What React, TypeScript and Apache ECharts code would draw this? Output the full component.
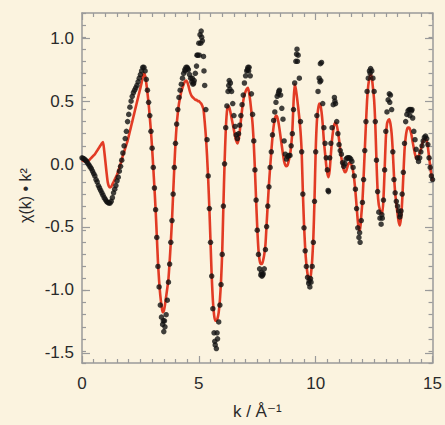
import React, { useEffect, useRef } from "react";
import * as echarts from "echarts";

// k grid step (Å^-1) of the sampled data, from k = 0 to 15
const K_STEP = 0.05;

// experimental chi(k)*k^2 (black dots), one value per K_STEP from k = 0
const chiExp = [
  0.00, -0.005, -0.01, -0.02, -0.03, -0.045, -0.06, -0.075, -0.09, -0.11, -0.13, -0.15, -0.18, -0.20, -0.23, -0.25, -0.27, -0.29, -0.31, -0.33,
  -0.345, -0.36, -0.37, -0.375, -0.375, -0.36, -0.33, -0.29, -0.26, -0.23, -0.19, -0.16, -0.11, -0.07, -0.02, 0.04, 0.10, 0.16, 0.22, 0.30,
  0.36, 0.42, 0.47, 0.51, 0.54, 0.56, 0.58, 0.60, 0.63, 0.66, 0.69, 0.72, 0.75, 0.75, 0.72, 0.65, 0.56, 0.46, 0.35, 0.22,
  0.08, -0.08, -0.25, -0.43, -0.66, -0.90, -1.07, -1.22, -1.32, -1.38, -1.44, -1.40, -1.30, -1.18, -1.03, -0.88, -0.70, -0.52, -0.30, -0.08,
  0.12, 0.28, 0.40, 0.50, 0.56, 0.61, 0.66, 0.70, 0.73, 0.75, 0.75, 0.73, 0.69, 0.66, 0.63, 0.61, 0.64, 0.70, 0.76, 0.85,
  0.95, 1.02, 1.05, 0.97, 0.84, 0.60, 0.40, 0.15, -0.15, -0.42, -0.70, -0.98, -1.25, -1.45, -1.55, -1.58, -1.50, -1.36, -1.22, -1.05,
  -0.80, -0.40, -0.05, 0.25, 0.43, 0.55, 0.64, 0.62, 0.55, 0.45, 0.35, 0.26, 0.19, 0.16, 0.20, 0.27, 0.35, 0.44, 0.52, 0.62,
  0.68, 0.72, 0.75, 0.75, 0.68, 0.53, 0.36, 0.14, -0.10, -0.35, -0.60, -0.80, -0.92, -0.97, -0.98, -0.96, -0.92, -0.76, -0.57, -0.40,
  -0.24, -0.08, 0.05, 0.19, 0.31, 0.38, 0.46, 0.51, 0.53, 0.56, 0.52, 0.41, 0.32, 0.14, 0.03, -0.01, 0.01, 0.02, 0.02, 0.10,
  0.20, 0.40, 0.62, 0.80, 0.90, 0.85, 0.66, 0.30, 0.05, -0.30, -0.58, -0.77, -0.90, -0.99, -1.04, -1.07, -1.03, -0.90, -0.70, -0.36,
  0.05, 0.35, 0.55, 0.66, 0.78, 0.79, 0.45, 0.25, 0.12, 0.00, -0.10, -0.28, 0.00, 0.12, 0.25, 0.44, 0.50, 0.45, 0.30, 0.20,
  0.11, 0.06, 0.03, -0.04, -0.07, -0.05, -0.01, 0.00, 0.00, 0.00, -0.01, -0.03, -0.08, -0.15, -0.26, -0.42, -0.58, -0.66, -0.70, -0.52,
  -0.37, -0.18, 0.06, 0.30, 0.55, 0.66, 0.72, 0.74, 0.72, 0.66, 0.55, 0.30, -0.02, -0.28, -0.45, -0.50, -0.55, -0.50, -0.35, -0.10,
  0.22, 0.38, 0.48, 0.53, 0.52, 0.40, 0.05, -0.18, -0.29, -0.36, -0.40, -0.44, -0.49, -0.44, -0.30, -0.12, 0.12, 0.30, 0.36, 0.39,
  0.40, 0.40, 0.39, 0.33, 0.22, 0.15, 0.07, 0.00, -0.03, 0.00, 0.05, 0.10, 0.14, 0.17, 0.18, 0.16, 0.11, 0.00, -0.08, -0.15,
  -0.18,
];

// fitted chi(k)*k^2 (red line), one value per K_STEP from k = 0
const chiFit = [
  -0.02, -0.025, -0.03, -0.03, -0.03, -0.025, -0.02, -0.01, 0.00, 0.01, 0.02, 0.03, 0.045, 0.06, 0.075, 0.09, 0.105, 0.12, 0.13, 0.06,
  -0.03, -0.12, -0.20, -0.235, -0.245, -0.24, -0.22, -0.20, -0.18, -0.16, -0.14, -0.11, -0.08, -0.05, -0.02, 0.02, 0.05, 0.08, 0.11, 0.14,
  0.18, 0.22, 0.26, 0.30, 0.34, 0.38, 0.42, 0.46, 0.50, 0.54, 0.58, 0.62, 0.67, 0.70, 0.68, 0.62, 0.54, 0.45, 0.34, 0.22,
  0.08, -0.08, -0.25, -0.43, -0.64, -0.86, -1.02, -1.14, -1.22, -1.28, -1.27, -1.22, -1.15, -1.08, -1.00, -0.86, -0.70, -0.52, -0.30, -0.08,
  0.12, 0.27, 0.37, 0.45, 0.50, 0.55, 0.58, 0.61, 0.63, 0.64, 0.63, 0.60, 0.56, 0.53, 0.51, 0.50, 0.49, 0.48, 0.48, 0.47,
  0.47, 0.46, 0.45, 0.43, 0.40, 0.30, 0.18, 0.02, -0.18, -0.42, -0.70, -0.98, -1.18, -1.30, -1.35, -1.35, -1.33, -1.28, -1.18, -1.02,
  -0.78, -0.40, -0.05, 0.22, 0.38, 0.43, 0.42, 0.38, 0.33, 0.28, 0.23, 0.18, 0.14, 0.12, 0.15, 0.22, 0.31, 0.40, 0.47, 0.52,
  0.55, 0.57, 0.58, 0.54, 0.47, 0.38, 0.28, 0.12, -0.10, -0.35, -0.58, -0.76, -0.85, -0.88, -0.88, -0.85, -0.80, -0.72, -0.55, -0.38,
  -0.22, -0.08, 0.05, 0.17, 0.26, 0.32, 0.35, 0.34, 0.30, 0.24, 0.17, 0.10, 0.03, -0.03, -0.06, -0.07, -0.06, -0.02, 0.02, 0.10,
  0.22, 0.45, 0.61, 0.57, 0.50, 0.42, 0.33, 0.22, 0.05, -0.28, -0.55, -0.75, -0.88, -0.96, -1.01, -1.02, -0.96, -0.85, -0.66, -0.34,
  0.06, 0.30, 0.40, 0.45, 0.44, 0.38, 0.28, 0.14, 0.04, -0.06, -0.13, -0.16, -0.10, 0.03, 0.15, 0.23, 0.28, 0.29, 0.27, 0.22,
  0.15, 0.07, 0.00, -0.06, -0.10, -0.12, -0.11, -0.08, -0.05, -0.04, -0.05, -0.07, -0.11, -0.18, -0.28, -0.40, -0.52, -0.60, -0.60, -0.48,
  -0.36, -0.16, 0.06, 0.28, 0.48, 0.60, 0.66, 0.69, 0.67, 0.58, 0.48, 0.28, -0.02, -0.28, -0.39, -0.43, -0.46, -0.46, -0.34, -0.10,
  0.16, 0.28, 0.31, 0.32, 0.28, 0.20, 0.05, -0.15, -0.29, -0.38, -0.46, -0.53, -0.56, -0.50, -0.36, -0.15, 0.06, 0.17, 0.23, 0.25,
  0.25, 0.23, 0.19, 0.13, 0.08, 0.03, 0.00, -0.01, 0.01, 0.04, 0.07, 0.11, 0.14, 0.16, 0.16, 0.14, 0.09, 0.01, -0.07, -0.14,
  -0.19,
];

// additional experimental points that cluster around the extrema
const extraK = [4.42, 4.52, 4.72, 4.78, 4.92, 5.02, 5.12, 5.08, 5.22, 3.48, 3.53, 5.68, 5.78, 6.28, 6.33, 7.08, 7.13, 7.68, 7.73, 8.42, 9.18, 9.22, 9.72, 9.78, 10.22, 10.18, 10.53, 10.82, 11.88, 12.33, 12.83, 13.17, 13.62, 14.03, 14.12];
const extraChi = [0.72, 0.74, 0.66, 0.62, 0.85, 0.85, 1.00, 0.95, 0.72, -1.35, -1.35, -1.52, -1.45, 0.60, 0.57, 0.73, 0.72, -0.95, -0.97, 0.55, 0.86, 0.80, -1.02, -1.00, 0.64, 0.63, -0.27, 0.47, -0.62, 0.70, -0.47, 0.46, -0.47, 0.35, 0.40];

const xTicks = [0, 5, 10, 15];
const yTickLabels = [-1.5, -1.0, -0.5, 0.0, 0.5, 1.0];

const BG = "#fbf3df";
const AXIS_COLOR = "#9a9a9a";
const FONT = "'Liberation Sans', Arial, Helvetica, 'DejaVu Sans', sans-serif";

export default function App() {
  const ref = useRef<HTMLDivElement>(null);

  useEffect(() => {
    if (!ref.current) return;
    const chart = echarts.init(ref.current, null, { renderer: "svg" });

    const round2 = (v: number) => Math.round(v * 100) / 100;
    const expPts = chiExp.map((v, i) => [round2(i * K_STEP), v]);
    extraK.forEach((k, i) => expPts.push([k, extraChi[i]]));
    const fitPts = chiFit.map((v, i) => [round2(i * K_STEP), v]);

    const yMin = -1.7;
    const yMax = 1.2;
    const gTop = 13;
    const gBottom = 47;
    const plotH = 425 - gTop - gBottom;
    const pxPerUnit = plotH / (yMax - yMin);
    const labMin = yTickLabels[0];
    const labMax = yTickLabels[yTickLabels.length - 1];

    const lineStyle = { color: AXIS_COLOR, width: 1.5 };
    const tickStyle = { color: AXIS_COLOR, width: 1.2 };

    const option: any = {
      animation: false,
      backgroundColor: BG,
      grid: [
        { left: 82, right: 12, top: gTop, bottom: gBottom },
        {
          left: 82,
          right: 12,
          top: gTop + (yMax - labMax) * pxPerUnit,
          bottom: gBottom + (labMin - yMin) * pxPerUnit,
        },
      ],
      xAxis: [
        {
          gridIndex: 0,
          type: "value",
          position: "bottom",
          min: xTicks[0],
          max: xTicks[xTicks.length - 1],
          interval: 5,
          axisLine: { show: true, onZero: false, lineStyle },
          axisTick: { show: true, inside: true, length: 7, lineStyle: tickStyle },
          minorTick: { show: true, splitNumber: 10, length: 4, lineStyle: tickStyle },
          splitLine: { show: false },
          axisLabel: { show: true, margin: 12, fontSize: 17, color: "#2a2a2a", fontFamily: FONT },
          name: "k / Å⁻¹",
          nameLocation: "middle",
          nameGap: 40,
          nameTextStyle: { fontSize: 17, color: "#2a2a2a", fontFamily: FONT },
        },
        {
          gridIndex: 0,
          type: "value",
          position: "top",
          min: xTicks[0],
          max: xTicks[xTicks.length - 1],
          interval: 5,
          axisLine: { show: true, onZero: false, lineStyle },
          axisTick: { show: true, inside: true, length: 7, lineStyle: tickStyle },
          minorTick: { show: true, splitNumber: 10, length: 4, lineStyle: tickStyle },
          splitLine: { show: false },
          axisLabel: { show: false },
        },
        { gridIndex: 1, type: "value", min: 0, max: 15, show: false },
      ],
      yAxis: [
        {
          gridIndex: 0,
          type: "value",
          position: "left",
          min: yMin,
          max: yMax,
          interval: 0.1,
          axisLine: { show: true, onZero: false, lineStyle },
          axisTick: { show: true, inside: true, length: 4, lineStyle: tickStyle },
          splitLine: { show: false },
          axisLabel: { show: false },
        },
        {
          gridIndex: 0,
          type: "value",
          position: "right",
          min: yMin,
          max: yMax,
          interval: 0.1,
          axisLine: { show: true, onZero: false, lineStyle },
          axisTick: { show: true, inside: true, length: 4, lineStyle: tickStyle },
          splitLine: { show: false },
          axisLabel: { show: false },
        },
        {
          gridIndex: 1,
          type: "value",
          position: "left",
          min: labMin,
          max: labMax,
          interval: 0.5,
          axisLine: { show: false, onZero: false },
          axisTick: { show: true, inside: true, length: 8, lineStyle: tickStyle },
          splitLine: { show: false },
          axisLabel: {
            show: true,
            margin: 8,
            fontSize: 17,
            color: "#2a2a2a",
            fontFamily: FONT,
            formatter: (v: number) => v.toFixed(1),
          },
          name: "χ(k) • k²",
          nameLocation: "middle",
          nameGap: 46,
          nameRotate: 90,
          nameTextStyle: { fontSize: 16, color: "#2a2a2a", fontFamily: FONT },
        },
        {
          gridIndex: 1,
          type: "value",
          position: "right",
          min: labMin,
          max: labMax,
          interval: 0.5,
          axisLine: { show: false, onZero: false },
          axisTick: { show: true, inside: true, length: 8, lineStyle: tickStyle },
          splitLine: { show: false },
          axisLabel: { show: false },
        },
      ],
      series: [
        {
          name: "fit",
          type: "line",
          xAxisIndex: 0,
          yAxisIndex: 0,
          data: fitPts,
          showSymbol: false,
          symbol: "none",
          smooth: 0.2,
          lineStyle: { color: "#e23b25", width: 2.6 },
          z: 2,
        },
        {
          name: "data",
          type: "scatter",
          xAxisIndex: 0,
          yAxisIndex: 0,
          data: expPts,
          symbol: "circle",
          symbolSize: 5.5,
          itemStyle: { color: "#111111" },
          z: 3,
        },
      ],
    };

    chart.setOption(option);
    return () => chart.dispose();
  }, []);

  return (
    <div
      ref={ref}
      style={{ position: "fixed", left: 0, top: 0, width: 445, height: 425, background: BG }}
    />
  );
}
